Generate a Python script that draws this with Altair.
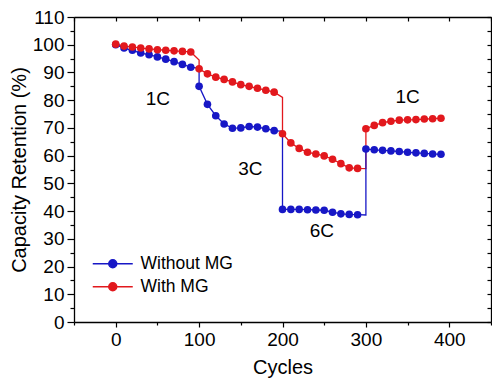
import altair as alt
import pandas as pd

# ---- data ----
cycles = list(range(0, 400, 10))
without_mg = [100.0, 98.8, 98.0, 97.0, 96.4, 95.6, 94.8, 93.9, 92.9, 91.9,
              85.0, 78.5, 74.4, 71.4, 69.9, 70.0, 70.5, 70.3, 69.7, 69.0,
              40.6, 40.6, 40.6, 40.5, 40.4, 40.3, 39.6, 39.0, 38.8, 38.7,
              62.4, 62.1, 61.9, 61.7, 61.5, 61.2, 61.0, 60.8, 60.6, 60.5]
with_mg = [100.2, 99.5, 99.2, 98.8, 98.5, 98.2, 98.0, 97.8, 97.6, 97.4,
           91.3, 89.5, 88.3, 87.5, 86.6, 85.6, 85.0, 84.3, 83.6, 82.9,
           67.9, 64.6, 62.6, 61.2, 60.6, 59.9, 58.7, 57.1, 55.6, 55.4,
           69.7, 70.9, 71.9, 72.4, 72.8, 72.9, 73.0, 73.2, 73.3, 73.5]
transition_cycles = [100, 200, 300]
without_mg_before = [91.5, 68.8, 38.6]
with_mg_before = [94.5, 81.0, 55.3]

series_names = ["Without MG", "With MG"]
series_colors = ["#1717c6", "#e2181d"]

rate_labels = ["1C", "3C", "6C", "1C"]
rate_x = [50.6, 161.5, 247.3, 350.0]
rate_y = [80.3, 55.3, 32.9, 81.1]

x_ticks = list(range(-50, 451, 50))
y_ticks = list(range(0, 111, 5))

FONT = "Liberation Sans"

# ---- tables ----
pts_rows, line_rows = [], []
for name, vals, before in [(series_names[0], without_mg, without_mg_before),
                           (series_names[1], with_mg, with_mg_before)]:
    for c, v in zip(cycles, vals):
        pts_rows.append({"cycle": c, "value": v, "series": name})
        line_rows.append({"cycle": c, "value": v, "series": name, "k": 1})
    for c, v in zip(transition_cycles, before):
        line_rows.append({"cycle": c, "value": v, "series": name, "k": 0})
pts = pd.DataFrame(pts_rows)
lines = pd.DataFrame(line_rows).sort_values(["series", "cycle", "k"]).reset_index(drop=True)
lines["order"] = range(len(lines))
labels = pd.DataFrame({"cycle": rate_x, "value": rate_y, "text": rate_labels})

x_axis = alt.Axis(
    values=x_ticks,
    labelExpr="(datum.value >= 0 && datum.value <= 400 && datum.value % 100 == 0) ? datum.label : ''",
    tickSize={"condition": {"test": "datum.value % 100 == 0", "value": 5}, "value": 3},
    tickWidth=1.2, tickColor="black", domainColor="black", domainWidth=1.3,
    labelFont=FONT, labelFontSize=19, labelColor="black", labelPadding=3,
    title="Cycles", titleFont=FONT, titleFontSize=20, titleFontWeight="normal",
    titleColor="black", titlePadding=8, grid=False,
)
y_axis = alt.Axis(
    values=y_ticks,
    labelExpr="datum.value % 10 == 0 ? datum.label : ''",
    tickSize={"condition": {"test": "datum.value % 10 == 0", "value": 7}, "value": 4},
    tickWidth=1.2, tickColor="black", domainColor="black", domainWidth=1.3,
    labelFont=FONT, labelFontSize=19, labelColor="black", labelPadding=3,
    title="Capacity Retention (%)", titleFont=FONT, titleFontSize=20,
    titleFontWeight="normal", titleColor="black", titlePadding=3, grid=False,
)
X = alt.X("cycle:Q", scale=alt.Scale(domain=[-50, 450], nice=False, zero=False), axis=x_axis)
Y = alt.Y("value:Q", scale=alt.Scale(domain=[0, 110], nice=False, zero=False), axis=y_axis)

# legend symbol: a 40px line with a dot of radius 4px (path units scale by sqrt(size)/2 = 5)
legend_path = "M-4,0H4M0.8,0A0.8,0.8 0 1,1 -0.8,0A0.8,0.8 0 1,1 0.8,0Z"
color = alt.Color(
    "series:N",
    scale=alt.Scale(domain=series_names, range=series_colors),
    legend=alt.Legend(
        title=None, orient="none", legendX=30, legendY=238,
        symbolType=legend_path, symbolSize=100, symbolStrokeWidth=1.5,
        labelFont=FONT, labelFontSize=17.5, labelColor="black",
        labelOffset=19, rowPadding=4, padding=0,
    ),
)

line_layer = alt.Chart(lines).mark_line(strokeWidth=1.3).encode(
    x=X, y=Y, color=color, order="order:Q", detail="series:N"
)
point_layer = alt.Chart(pts).mark_point(filled=True, size=58, opacity=1).encode(
    x=X, y=Y, color=color
)
text_layer = alt.Chart(labels).mark_text(font=FONT, fontSize=19, color="black").encode(
    x=X, y=Y, text="text:N"
)
main = alt.layer(line_layer, point_layer, text_layer)

mirror = alt.Chart(pts).mark_point(opacity=0).encode(
    x=alt.X("cycle:Q", scale=alt.Scale(domain=[-50, 450], nice=False, zero=False),
            axis=alt.Axis(orient="top", values=x_ticks, labels=False, title=None,
                          tickSize=alt.ExprRef("-4"), tickWidth=1.2, tickColor="black",
                          domainColor="black", domainWidth=1.3, grid=False)),
    y=alt.Y("value:Q", scale=alt.Scale(domain=[0, 110], nice=False, zero=False),
            axis=alt.Axis(orient="right", values=y_ticks, labels=False, title=None,
                          tickSize=alt.ExprRef("-4"), tickWidth=1.2, tickColor="black",
                          domainColor="black", domainWidth=1.3, grid=False)),
)

chart = alt.layer(main, mirror).resolve_axis(x="independent", y="independent").properties(
    width=417, height=305,
    autosize=alt.AutoSizeParams(type="none"),
    padding={"left": 66, "top": 9, "right": 1, "bottom": 58},
    background="white",
).configure_view(stroke=None)

chart.save("out.html", embed_options={"renderer": "svg", "actions": False})
